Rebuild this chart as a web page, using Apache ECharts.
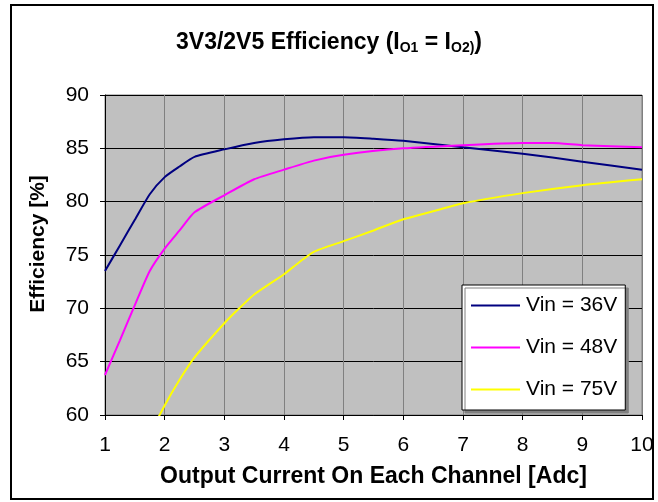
<!DOCTYPE html>
<html>
<head>
<meta charset="utf-8">
<script src="https://cdn.jsdelivr.net/npm/echarts@6/dist/echarts.min.js"></script>
<style>
    html, body { margin: 0; padding: 0; background: #fff; }
    #myChart { width: 658px; height: 502px; }
</style>
</head>
<body>
<div id="myChart"></div>
<script>
    // 读图估计的数据
    const seriesNames = ['Vin = 36V', 'Vin = 48V', 'Vin = 75V'];
    const seriesColors = ['#000080', '#FF00FF', '#FFFF00'];

    const x36 = [1, 1.25, 1.5, 1.75, 2, 2.25, 2.5, 3, 3.5, 4, 4.5, 5, 5.5, 6, 7, 8, 9, 10];
    const y36 = [73.5, 75.9, 78.3, 80.7, 82.3, 83.3, 84.2, 84.9, 85.5, 85.85, 86.05, 86.05, 85.9, 85.7, 85.1, 84.5, 83.75, 83.0];

    const x48 = [1, 1.25, 1.5, 1.75, 2, 2.25, 2.5, 3, 3.5, 4, 4.5, 5, 6, 7, 8, 8.5, 9, 10];
    const y48 = [63.75, 67.0, 70.3, 73.5, 75.6, 77.3, 79.0, 80.6, 82.1, 83.0, 83.85, 84.4, 85.0, 85.3, 85.5, 85.5, 85.3, 85.1];

    const x75 = [1.75, 2, 2.25, 2.5, 3, 3.25, 3.5, 4, 4.25, 4.5, 5, 5.5, 6, 6.5, 7, 8, 9, 10];
    const y75 = [58.2, 60.9, 63.3, 65.4, 68.6, 70.0, 71.3, 73.2, 74.3, 75.3, 76.3, 77.3, 78.35, 79.1, 79.85, 80.8, 81.55, 82.1];

    const xTicks = { min: 1, max: 10, interval: 1 };
    const yTicks = { min: 60, max: 90, interval: 5 };

    function pairs(xs, ys) {
        return xs.map((x, i) => [x, ys[i]]);
    }

    const font = 'Liberation Sans, Arial, sans-serif';
    const lists = [pairs(x36, y36), pairs(x48, y48), pairs(x75, y75)];

    let myChart = echarts.init(document.getElementById('myChart'));
    let option = {
        animation: false,
        textStyle: { fontFamily: font, color: '#000' },
        title: {
            left: 'center',
            top: 26,
            text: '{m|3V3/2V5 Efficiency (I}{s|O1}{m| = I}{s|O2)}{m|)}',
            textStyle: {
                rich: {
                    m: { fontFamily: font, fontSize: 23, fontWeight: 'bold', color: '#000' },
                    s: { fontFamily: font, fontSize: 14, fontWeight: 'bold', color: '#000', padding: [10, 0, 0, 0] }
                }
            }
        },
        graphic: [{
            type: 'rect',
            shape: { x: 11, y: 5, width: 642, height: 494 },
            style: { fill: 'none', stroke: '#000', lineWidth: 2 },
            silent: true
        }],
        legend: {
            orient: 'vertical',
            left: 462,
            top: 285,
            width: 174,
            padding: [10, 8, 10, 9],
            itemGap: 21,
            itemWidth: 49,
            itemHeight: 2,
            icon: 'rect',
            backgroundColor: '#fff',
            borderColor: '#000',
            borderWidth: 1,
            shadowColor: '#808080',
            shadowBlur: 0,
            shadowOffsetX: 3,
            shadowOffsetY: 3,
            textStyle: { fontFamily: font, fontSize: 21, color: '#000', padding: [0, 0, 0, 1] },
            data: seriesNames
        },
        grid: {
            left: 105,
            right: 16,
            top: 95,
            bottom: 87,
            show: true,
            backgroundColor: '#C0C0C0',
            borderColor: '#808080',
            borderWidth: 1
        },
        xAxis: {
            type: 'value',
            min: xTicks.min,
            max: xTicks.max,
            interval: xTicks.interval,
            name: 'Output Current On Each Channel [Adc]',
            nameLocation: 'middle',
            nameGap: 50,
            nameMoveOverlap: false,
            nameTextStyle: { fontFamily: font, fontSize: 23, fontWeight: 'bold', color: '#000' },
            axisLine: { show: true, lineStyle: { color: '#000', width: 1 } },
            axisTick: { show: true, length: 5, lineStyle: { color: '#000' } },
            axisLabel: { fontFamily: font, fontSize: 21, color: '#000', margin: 20 },
            splitLine: { show: true, lineStyle: { color: '#808080', width: 1 } }
        },
        yAxis: {
            type: 'value',
            min: yTicks.min,
            max: yTicks.max,
            interval: yTicks.interval,
            name: 'Efficiency [%]',
            nameLocation: 'middle',
            nameGap: 56,
            nameMoveOverlap: false,
            nameTextStyle: { fontFamily: font, fontSize: 21, fontWeight: 'bold', color: '#000', padding: [0, 0, 0, 22] },
            axisLine: { show: true, lineStyle: { color: '#000', width: 1 } },
            axisTick: { show: true, length: 5, lineStyle: { color: '#000' } },
            axisLabel: { fontFamily: font, fontSize: 21, color: '#000', margin: 16 },
            splitLine: { show: true, lineStyle: { color: '#000', width: 1 } }
        },
        series: seriesNames.map((name, i) => ({
            name: name,
            type: 'line',
            smooth: 0.2,
            symbol: 'none',
            clip: true,
            itemStyle: { color: seriesColors[i] },
            lineStyle: { color: seriesColors[i], width: 2 },
            data: lists[i]
        }))
    };
    myChart.setOption(option);
</script>
</body>
</html>
